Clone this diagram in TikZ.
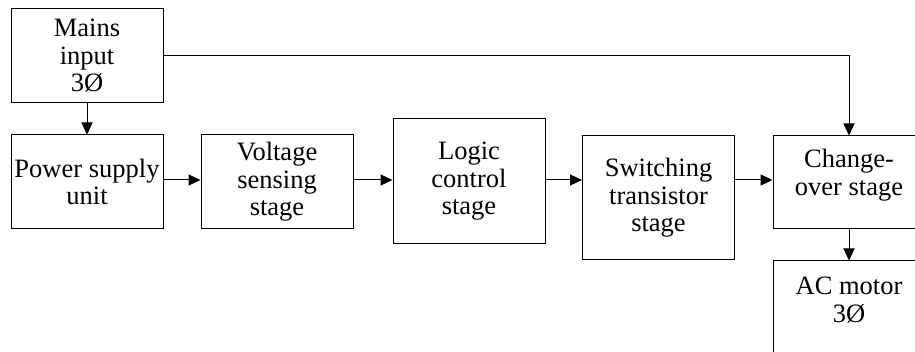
\documentclass[tikz,border=0pt]{standalone}
\usepackage{fontspec}
\setmainfont{Liberation Serif}
\usetikzlibrary{arrows.meta}
\begin{document}
\begin{tikzpicture}[x=1pt,y=-1pt,
  box/.style={draw, line width=1pt, rectangle, minimum width=152pt, align=center, inner sep=0pt, font=\fontsize{26.5}{27.5}\selectfont},
  txt/.style={align=center, inner sep=0pt, font=\fontsize{26.5}{27.5}\selectfont},
  conn/.style={line width=1pt, -{Triangle[length=12pt,width=11pt]}}]
\useasboundingbox (0,0) rectangle (915,352);
\clip (0,0) rectangle (915,352);
\fill[white] (0,0) rectangle (915,352);
\node[box, minimum height=94pt] (mains) at (87,56) {Mains\\input\\3Ø};
\node[box, minimum height=94pt] (psu) at (87,182) {Power supply\\unit};
\node[box, minimum height=94pt] (volt) at (277,182) {Voltage\\sensing\\stage};
\node[box, minimum height=125pt] (logic) at (469,181.5) {Logic\\control\\stage};
\node[box, minimum height=124pt] (sw) at (658.5,198) {Switching\\transistor\\stage};
\node[box, minimum height=93pt] (co) at (849,182.5) {};
\node[txt] (cot) at (849,175) {Change-\\over stage};
\node[box, minimum height=120pt] (ac) at (849,321) {};
\node[txt] (act) at (849,300) {AC motor\\3Ø};
\coordinate (row) at (0,180);
\draw[conn] (mains.south) -- (psu.north);
\draw[conn] (psu.east |- row) -- (volt.west |- row);
\draw[conn] (volt.east |- row) -- (logic.west |- row);
\draw[conn] (logic.east |- row) -- (sw.west |- row);
\draw[conn] (sw.east |- row) -- (co.west |- row);
\draw[conn] (mains.east) -- (mains.east -| co.north) -- (co.north);
\draw[conn] (co.south) -- (ac.north);
\end{tikzpicture}
\end{document}
